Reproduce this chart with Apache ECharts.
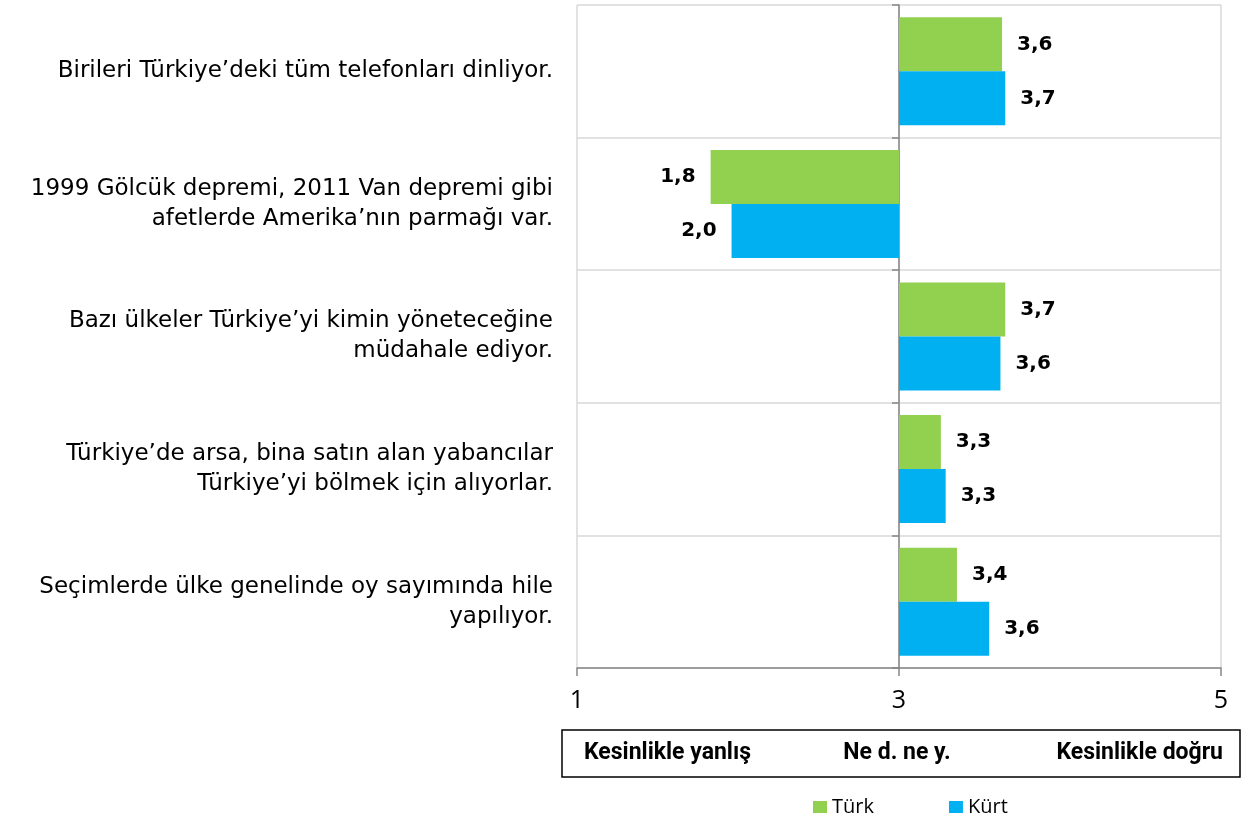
<!DOCTYPE html>
<html><head><meta charset="utf-8">
<script src="https://cdn.jsdelivr.net/npm/echarts@6/dist/echarts.min.js"></script>
<style>html,body{margin:0;padding:0;background:#fff}#c{width:1241px;height:819px}</style>
</head><body><div id="c"></div>
<script>
var categories = [
  "Birileri Türkiye’deki tüm telefonları dinliyor.",
  "1999 Gölcük depremi, 2011 Van depremi gibi\nafetlerde Amerika’nın parmağı var.",
  "Bazı ülkeler Türkiye’yi kimin yöneteceğine\nmüdahale ediyor.",
  "Türkiye’de arsa, bina satın alan yabancılar\nTürkiye’yi bölmek için alıyorlar.",
  "Seçimlerde ülke genelinde oy sayımında hile\nyapılıyor."
];
var turk = [3.64, 1.83, 3.66, 3.26, 3.36];
var kurt = [3.66, 1.96, 3.63, 3.29, 3.56];
var seriesNames = ["Türk", "Kürt"];
var midpoint = 3;
var tickValues = [1, 3, 5];
var scaleLabels = ["Kesinlikle yanlış", "Ne d. ne y.", "Kesinlikle doğru"];

var chart = echarts.init(document.getElementById('c'), null, {renderer: 'canvas'});
function fmt(v) { return (v + midpoint).toFixed(1).replace('.', ','); }
function mkData(arr) {
  return arr.map(function (v) {
    var d = v - midpoint;
    return { value: d, label: { position: d < 0 ? 'left' : 'right' } };
  });
}
var labelStyle = {
  show: true, distance: 15, color: '#000', fontSize: 20, fontWeight: 'bold',
  fontFamily: 'DejaVu Sans', formatter: function (p) { return fmt(p.value); }
};
var boxFont = 'bold 23px Roboto, "DejaVu Sans"';
var option = {
  animation: false,
  backgroundColor: '#fff',
  grid: { left: 577, right: 20, top: 5, bottom: 151, containLabel: false, outerBoundsMode: 'none' },
  legend: {
    data: seriesNames, left: 808, top: 792, itemWidth: 14, itemHeight: 12, itemGap: 75,
    icon: 'rect', textStyle: { fontSize: 20, color: '#000', fontFamily: 'Open Sans' }
  },
  xAxis: {
    type: 'value', min: tickValues[0] - midpoint, max: tickValues[tickValues.length - 1] - midpoint, interval: 2,
    axisLine: { show: true, onZero: false, lineStyle: { color: '#868686', width: 1.5 } },
    axisTick: { show: true, length: 8, lineStyle: { color: '#868686', width: 1.5 } },
    axisLabel: { margin: 20, fontSize: 25, color: '#000', fontFamily: 'Open Sans',
      formatter: function (v) { return String(v + midpoint); } },
    splitLine: { show: true, lineStyle: { color: '#d9d9d9', width: 1.5 } }
  },
  yAxis: {
    type: 'category', data: categories, inverse: true,
    axisLine: { show: true, onZero: true, lineStyle: { color: '#868686', width: 1.5 } },
    axisTick: { show: true, length: 7, lineStyle: { color: '#868686', width: 1.5 } },
    axisLabel: { margin: 24, fontSize: 23, color: '#000', align: 'right', lineHeight: 30,
      fontFamily: 'DejaVu Sans' },
    splitLine: { show: true, lineStyle: { color: '#d9d9d9', width: 1.5 } }
  },
  series: [
    { name: seriesNames[0], type: 'bar', data: mkData(turk), barWidth: 54, barGap: '0%',
      itemStyle: { color: '#92d050' }, label: labelStyle },
    { name: seriesNames[1], type: 'bar', data: mkData(kurt), barWidth: 54, barGap: '0%',
      itemStyle: { color: '#00b0f0' }, label: labelStyle }
  ],
  graphic: [
    { type: 'rect', shape: { x: 562, y: 730, width: 678, height: 47 },
      style: { fill: '#fff', stroke: '#000', lineWidth: 1.5 } },
    { type: 'text', x: 584, y: 753, style: { text: scaleLabels[0], fill: '#000', font: boxFont, textVerticalAlign: 'middle', textAlign: 'left' } },
    { type: 'text', x: 897, y: 753, style: { text: scaleLabels[1], fill: '#000', font: boxFont, textVerticalAlign: 'middle', textAlign: 'center' } },
    { type: 'text', x: 1223, y: 753, style: { text: scaleLabels[2], fill: '#000', font: boxFont, textVerticalAlign: 'middle', textAlign: 'right' } }
  ]
};
chart.setOption(option);
</script></body></html>
